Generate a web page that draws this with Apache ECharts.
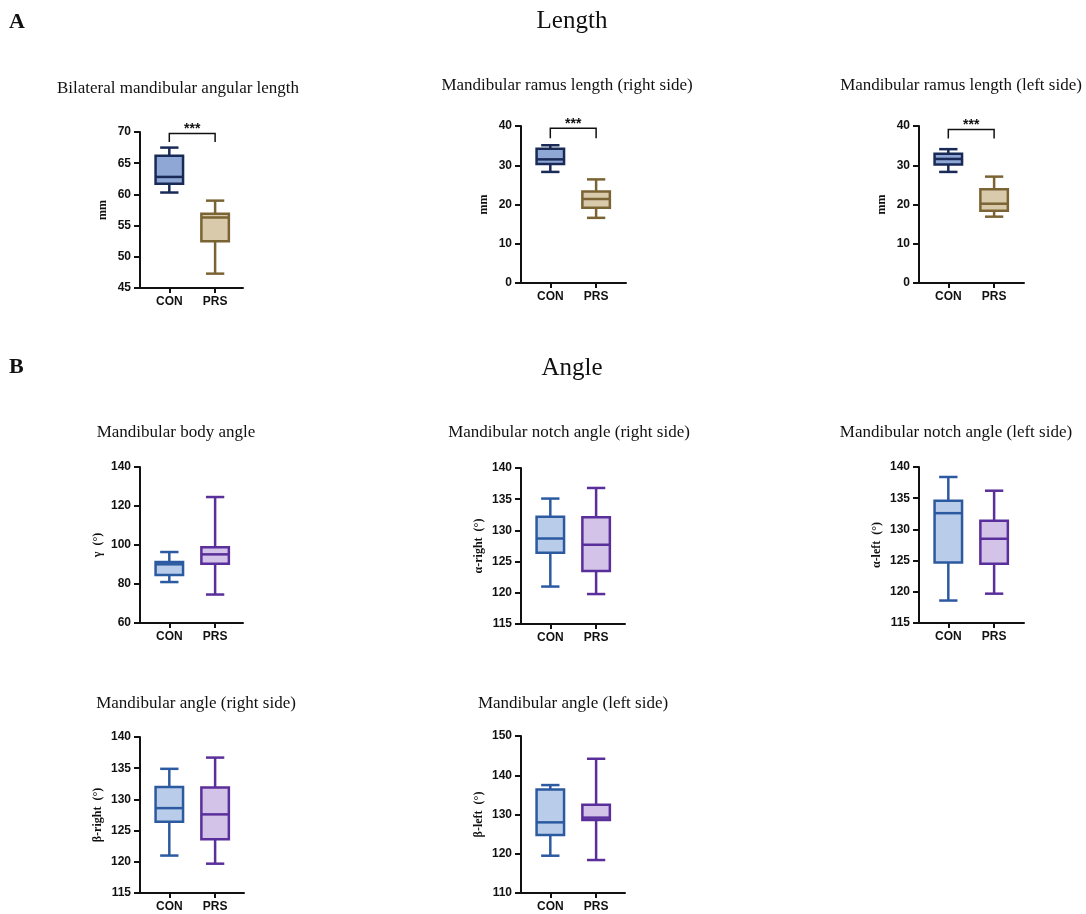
<!DOCTYPE html>
<html>
<head>
<meta charset="utf-8">
<title>Length / Angle</title>
<script src="https://cdn.jsdelivr.net/npm/echarts@6.0.0/dist/echarts.min.js"></script>
<style>
  html, body { margin: 0; padding: 0; background: #fff; }
  #main { width: 1086px; height: 914px; }
</style>
</head>
<body>
<div id="main"></div>
<script>
// groups on the x axis
var groups = ['CON', 'PRS'];

// box values: [min, q1, median, q3, max]
var angularLenCON = [60.3, 61.7, 62.8, 66.2, 67.5];
var angularLenPRS = [47.3, 52.5, 56.3, 56.9, 59.0];
var ramusRightCON = [28.3, 30.3, 31.5, 34.2, 35.1];
var ramusRightPRS = [16.6, 19.2, 21.4, 23.3, 26.4];
var ramusLeftCON = [28.3, 30.2, 31.6, 32.9, 34.1];
var ramusLeftPRS = [16.9, 18.4, 20.2, 23.9, 27.1];
var bodyAngleCON = [81.0, 84.6, 90.1, 91.3, 96.4];
var bodyAnglePRS = [74.6, 90.4, 95.2, 98.8, 124.6];
var notchRightCON = [121.0, 126.4, 128.7, 132.2, 135.1];
var notchRightPRS = [119.8, 123.5, 127.7, 132.1, 136.8];
var notchLeftCON = [118.6, 124.7, 132.6, 134.6, 138.4];
var notchLeftPRS = [119.7, 124.5, 128.5, 131.4, 136.2];
var angleRightCON = [121.0, 126.4, 128.6, 132.0, 134.9];
var angleRightPRS = [119.7, 123.6, 127.6, 131.9, 136.7];
var angleLeftCON = [119.5, 124.8, 128.0, 136.4, 137.5];
var angleLeftPRS = [118.4, 128.6, 129.2, 132.5, 144.2];

// y axis ranges: [min, max, interval]
var yLength1 = [45, 70, 5];
var yRamus = [0, 40, 10];
var yBody = [60, 140, 20];
var yNotch = [115, 140, 5];
var yAngleLeft = [110, 150, 10];

// significance brackets (top, foot of the drop) in data units
var sigAngular = [69.75, 68.4];
var sigRamusRight = [39.4, 36.9];
var sigRamusLeft = [39.1, 36.8];

var SERIF = "'Times New Roman', 'Liberation Serif', serif";
var SANS = "Arial, 'Liberation Sans', Helvetica, sans-serif";
var INK = '#111';

var themes = {
  length: { fill: ['#8fa7d4', '#dacaac'], stroke: ['#1a2a57', '#7a6433'] },
  angle: { fill: ['#b9cdea', '#d4c3e8'], stroke: ['#2c5aa0', '#5a2e9b'] }
};

var panels = [
  { title: 'Bilateral mandibular angular length', tx: 178, ty: 89,
    grid: { left: 140, top: 132, width: 103, height: 156 },
    y: yLength1, name: 'mm', data: [angularLenCON, angularLenPRS], theme: 'length', sig: sigAngular },
  { title: 'Mandibular ramus length (right side)', tx: 567, ty: 86,
    grid: { left: 521, top: 126, width: 105, height: 157 },
    y: yRamus, name: 'mm', data: [ramusRightCON, ramusRightPRS], theme: 'length', sig: sigRamusRight },
  { title: 'Mandibular ramus length (left side)', tx: 961, ty: 86,
    grid: { left: 919, top: 126, width: 105, height: 157 },
    y: yRamus, name: 'mm', data: [ramusLeftCON, ramusLeftPRS], theme: 'length', sig: sigRamusLeft },
  { title: 'Mandibular body angle', tx: 176, ty: 433,
    grid: { left: 140, top: 467, width: 103, height: 156 },
    y: yBody, name: 'γ', data: [bodyAngleCON, bodyAnglePRS], theme: 'angle' },
  { title: 'Mandibular notch angle (right side)', tx: 569, ty: 433,
    grid: { left: 521, top: 468, width: 104, height: 156 },
    y: yNotch, name: 'α-right', data: [notchRightCON, notchRightPRS], theme: 'angle' },
  { title: 'Mandibular notch angle (left side)', tx: 956, ty: 433,
    grid: { left: 919, top: 467, width: 105, height: 156 },
    y: yNotch, name: 'α-left', data: [notchLeftCON, notchLeftPRS], theme: 'angle' },
  { title: 'Mandibular angle (right side)', tx: 196, ty: 704,
    grid: { left: 140, top: 737, width: 104, height: 156 },
    y: yNotch, name: 'β-right', data: [angleRightCON, angleRightPRS], theme: 'angle' },
  { title: 'Mandibular angle (left side)', tx: 573, ty: 704,
    grid: { left: 521, top: 736, width: 104, height: 157 },
    y: yAngleLeft, name: 'β-left', data: [angleLeftCON, angleLeftPRS], theme: 'angle' }
];

// distance between the two group centres, and the gap from the y axis to CON
var SPACING = 45.8;
var XMIN = -0.64;

function makeBoxRenderer(theme) {
  return function (params, api) {
    var i = params.dataIndex;
    var x = api.value(0);
    var lo = api.coord([x, api.value(1)]);
    var q1 = api.coord([x, api.value(2)]);
    var md = api.coord([x, api.value(3)]);
    var q3 = api.coord([x, api.value(4)]);
    var hi = api.coord([x, api.value(5)]);
    var unit = api.size([1, 0])[0];
    var bw = unit * 0.6, cw = unit * 0.4;
    var cx = md[0];
    var st = { stroke: theme.stroke[i], lineWidth: 2.5, fill: null };
    return {
      type: 'group',
      children: [
        { type: 'line', shape: { x1: cx, y1: hi[1], x2: cx, y2: q3[1] }, style: st },
        { type: 'line', shape: { x1: cx, y1: q1[1], x2: cx, y2: lo[1] }, style: st },
        { type: 'line', shape: { x1: cx - cw / 2, y1: hi[1], x2: cx + cw / 2, y2: hi[1] }, style: st },
        { type: 'line', shape: { x1: cx - cw / 2, y1: lo[1], x2: cx + cw / 2, y2: lo[1] }, style: st },
        { type: 'rect', shape: { x: cx - bw / 2, y: q3[1], width: bw, height: q1[1] - q3[1] },
          style: { fill: theme.fill[i], stroke: theme.stroke[i], lineWidth: 2.5 } },
        { type: 'line', shape: { x1: cx - bw / 2, y1: md[1], x2: cx + bw / 2, y2: md[1] }, style: st }
      ]
    };
  };
}

function renderSig(params, api) {
  var a = api.coord([api.value(0), api.value(3)]);
  var b = api.coord([api.value(0), api.value(2)]);
  var c = api.coord([api.value(1), api.value(2)]);
  var d = api.coord([api.value(1), api.value(3)]);
  return {
    type: 'group',
    children: [
      { type: 'polyline', shape: { points: [a, b, c, d] }, style: { stroke: INK, lineWidth: 1.5, fill: null } },
      { type: 'text', x: (b[0] + c[0]) / 2, y: b[1] - 4,
        style: { text: '***', fill: INK, font: 'bold 14px ' + SANS, textAlign: 'center', textVerticalAlign: 'middle' } }
    ]
  };
}

var grids = [], xAxes = [], yAxes = [], series = [];
var graphics = [
  { type: 'text', left: 9, top: 11, style: { text: 'A', fill: INK, font: 'bold 22px ' + SERIF } },
  { type: 'text', x: 572, y: 21, style: { text: 'Length', fill: INK, font: '25px ' + SERIF, textAlign: 'center', textVerticalAlign: 'middle' } },
  { type: 'text', left: 9, top: 356, style: { text: 'B', fill: INK, font: 'bold 22px ' + SERIF } },
  { type: 'text', x: 572, y: 368, style: { text: 'Angle', fill: INK, font: '25px ' + SERIF, textAlign: 'center', textVerticalAlign: 'middle' } }
];

panels.forEach(function (p, k) {
  grids.push(p.grid);
  var isAngle = p.theme === 'angle';
  xAxes.push({
    type: 'value', gridIndex: k,
    min: XMIN, max: XMIN + p.grid.width / SPACING,
    axisLine: { onZero: false, lineStyle: { color: INK, width: 2 } },
    axisTick: { customValues: [0, 1], length: 5, lineStyle: { color: INK, width: 2 } },
    axisLabel: { customValues: [0, 1], formatter: function (v) { return groups[Math.round(v)]; },
      color: INK, fontFamily: SANS, fontWeight: 'bold', fontSize: 12, margin: 8 },
    splitLine: { show: false }
  });
  yAxes.push({
    type: 'value', gridIndex: k,
    min: p.y[0], max: p.y[1], interval: p.y[2],
    name: isAngle ? '{g|' + p.name + '}  {u|(°)}' : p.name,
    nameLocation: 'middle', nameRotate: 90, nameGap: isAngle ? 36 : 31,
    nameMoveOverlap: false,
    nameTextStyle: {
      color: INK, fontFamily: SERIF, fontWeight: 'bold', fontSize: 12,
      rich: {
        g: { fontFamily: SERIF, fontWeight: 'bold', fontSize: 12, color: INK },
        u: { fontFamily: SERIF, fontSize: 12, color: INK }
      }
    },
    axisLine: { show: true, onZero: false, lineStyle: { color: INK, width: 2 } },
    axisTick: { show: true, length: 6, lineStyle: { color: INK, width: 2 } },
    axisLabel: { color: INK, fontFamily: SANS, fontWeight: 'bold', fontSize: 12, margin: 9 },
    splitLine: { show: false }
  });
  series.push({
    type: 'custom', xAxisIndex: k, yAxisIndex: k,
    renderItem: makeBoxRenderer(themes[p.theme]),
    encode: { x: 0, y: [1, 2, 3, 4, 5] },
    data: p.data.map(function (d, i) { return [i].concat(d); }),
    z: 3
  });
  if (p.sig) {
    series.push({
      type: 'custom', xAxisIndex: k, yAxisIndex: k, clip: false,
      renderItem: renderSig,
      encode: { x: [0, 1], y: [2, 3] },
      data: [[0, 1, p.sig[0], p.sig[1]]],
      z: 4
    });
  }
  graphics.push({
    type: 'text', x: p.tx, y: p.ty,
    style: { text: p.title, fill: INK, font: '17px ' + SERIF, textAlign: 'center', textVerticalAlign: 'middle' }
  });
});

var myChart = echarts.init(document.getElementById('main'), null, { renderer: 'canvas' });
myChart.setOption({
  backgroundColor: '#fff',
  animation: false,
  grid: grids,
  xAxis: xAxes,
  yAxis: yAxes,
  series: series,
  graphic: graphics
});
</script>
</body>
</html>
